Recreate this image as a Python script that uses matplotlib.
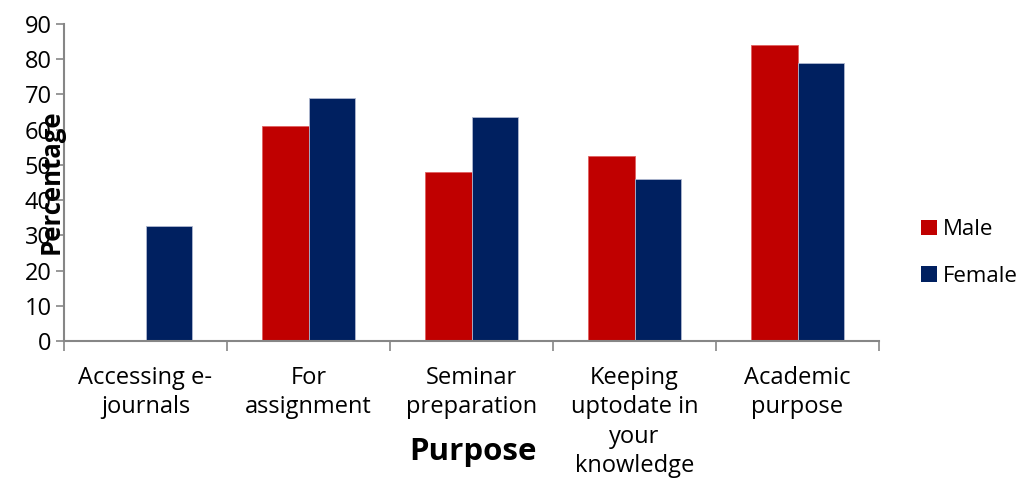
import matplotlib
matplotlib.use("Agg")
import matplotlib.pyplot as plt
import numpy as np
from matplotlib.patches import Patch

categories = ["Accessing e-\njournals", "For\nassignment", "Seminar\npreparation",
              "Keeping\nuptodate in\nyour\nknowledge", "Academic\npurpose"]
male = [0, 61, 48, 52.5, 84]
female = [32.6, 69.1, 63.5, 45.9, 79.0]
yticks = list(range(0, 91, 10))

plt.rcParams['font.family'] = ['Open Sans', 'DejaVu Sans']

fig = plt.figure(figsize=(10.22, 4.82), dpi=100)
ax = fig.add_axes([64/1022, 1-341/482, (879-64)/1022, (341-24)/482])

x = np.arange(len(categories))
w = 0.285
red = "#C00000"
navy = "#002060"
ax.bar(x - w/2, male, w, color=red, edgecolor="#e06060", linewidth=0.6, label="Male")
ax.bar(x + w/2, female, w, color=navy, edgecolor="#b0b8d0", linewidth=0.6, label="Female")

ax.set_xlim(-0.5, len(categories) - 0.5)
ax.set_ylim(0, 90)
ax.set_yticks(yticks)
ax.set_yticklabels([str(v) for v in yticks], fontsize=17)
ax.set_xticks(x)
ax.set_xticklabels(categories, fontsize=17, linespacing=1.3, va="top")
ax.set_xticks(np.arange(len(categories) + 1) - 0.5, minor=True)
ax.tick_params(axis="x", which="major", length=0, pad=18)
ax.tick_params(axis="x", which="minor", length=7, color="#868686", width=1.2, direction="out")
ax.tick_params(axis="y", length=6, color="#868686", width=1.2, direction="out", pad=3)

for s in ["top", "right"]:
    ax.spines[s].set_visible(False)
for s in ["left", "bottom"]:
    ax.spines[s].set_color("#868686")
    ax.spines[s].set_linewidth(1.5)

fig.text(51/1022, 1-182/482, "Percentage", rotation=90, fontsize=18.5, fontweight="bold",
         ha="center", va="center")
fig.text(473/1022, 1-452/482, "Purpose", fontsize=22.5, fontweight="bold",
         ha="center", va="center")

handles = [Patch(facecolor=red, label="Male"), Patch(facecolor=navy, label="Female")]
fig.legend(handles=handles, loc="center left", bbox_to_anchor=(901/1022, 1-253/482),
           frameon=False, fontsize=16, handlelength=0.7, handleheight=0.7,
           handletextpad=0.3, labelspacing=1.15)

fig.savefig("out.png", dpi=100)
